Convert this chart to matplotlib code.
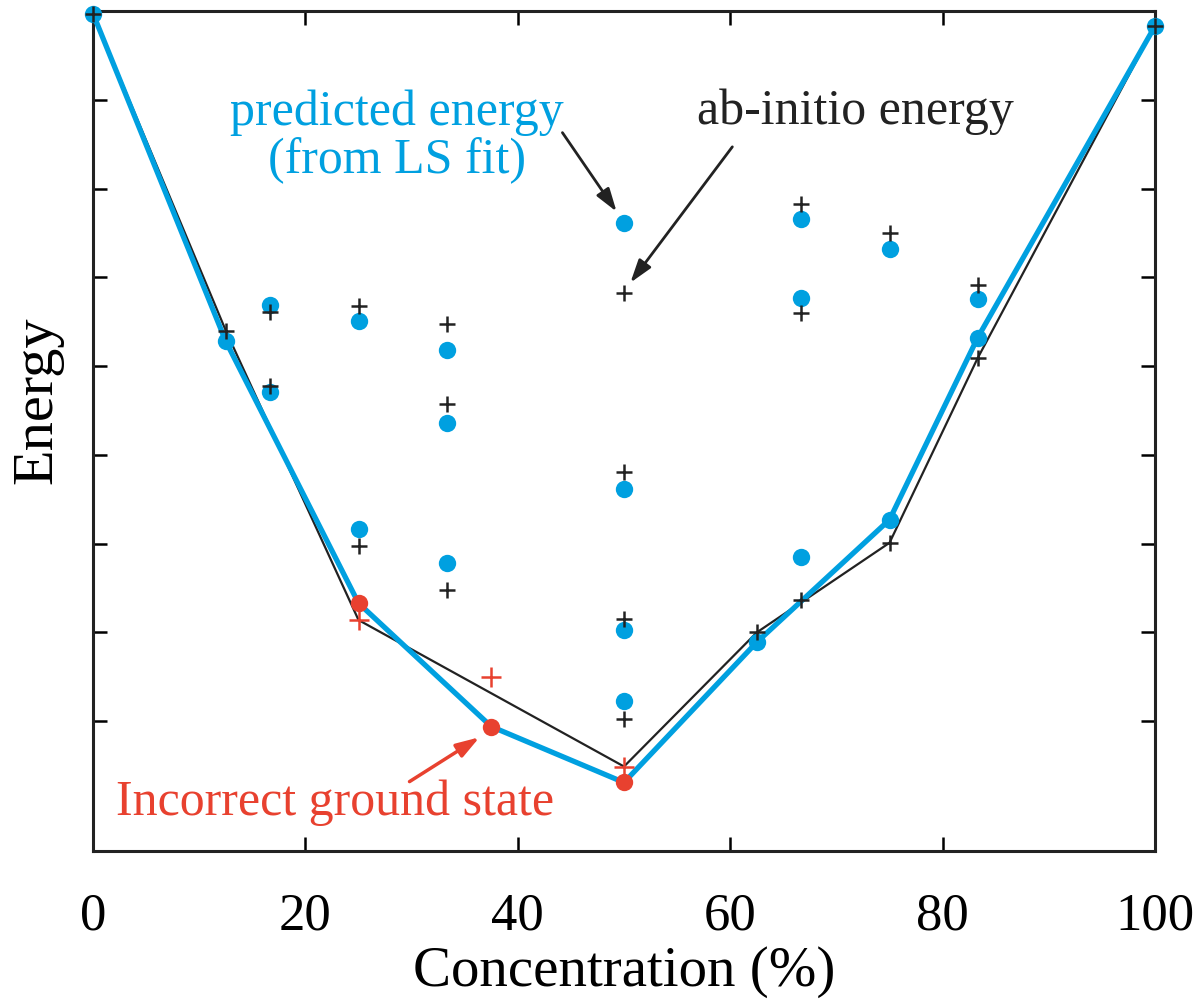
import matplotlib
matplotlib.use("Agg")
import matplotlib.pyplot as plt
import numpy as np

plt.rcParams['font.family'] = ['Liberation Serif', 'DejaVu Serif']

BLUE = '#00a0e0'
RED = '#e8412f'

# ab-initio energies (plus markers)
conc_ab = [0, 12.5, 16.7, 16.7, 25, 25, 33.3, 33.3, 33.3, 50, 50, 50, 50,
           62.5, 66.7, 66.7, 66.7, 75, 75, 83.3, 83.3, 100]
energy_ab = [-0.03, -3.60, -3.39, -4.22, -3.32, -6.03, -3.52, -4.43, -6.52,
             -3.18, -5.19, -6.85, -7.97, -7.00, -2.17, -3.40, -6.64, -2.50,
             -5.99, -3.09, -3.91, -0.17]

# predicted energies from LS fit (circles)
conc_fit = [0, 12.5, 16.7, 16.7, 25, 25, 33.3, 33.3, 33.3, 50, 50, 50, 50,
            62.5, 66.7, 66.7, 66.7, 75, 75, 83.3, 83.3, 100]
energy_fit = [-0.03, -3.72, -3.31, -4.29, -3.49, -5.83, -3.82, -4.64, -6.22,
              -2.39, -5.38, -6.97, -7.77, -7.11, -2.34, -3.23, -6.15, -2.68,
              -5.73, -3.24, -3.68, -0.17]

# ground-state hulls
hull_ab_x = [0, 12.5, 25, 50, 62.5, 75, 83.3, 100]
hull_ab_y = [-0.03, -3.60, -6.86, -8.51, -7.00, -5.99, -3.91, -0.17]
hull_fit_x = [0, 12.5, 25, 37.5, 50, 62.5, 75, 83.3, 100]
hull_fit_y = [-0.03, -3.72, -6.67, -8.06, -8.69, -7.11, -5.73, -3.68, -0.17]

# wrongly predicted ground states (red)
red_ab_x = [25, 37.5, 50]
red_ab_y = [-6.86, -7.50, -8.51]
red_fit_x = [25, 37.5, 50]
red_fit_y = [-6.67, -8.06, -8.69]

fig = plt.figure(figsize=(11.99, 10.01), dpi=100)
ax = fig.add_axes([0.0776, 0.150, 0.8857, 0.839])

ax.plot(hull_ab_x, hull_ab_y, color='#222222', lw=1.6, zorder=2)
ax.plot(hull_fit_x, hull_fit_y, color=BLUE, lw=3.8, zorder=3)
ax.plot(conc_fit, energy_fit, 'o', color=BLUE, ms=12.5, mec='none', zorder=4,
        clip_on=False)
ax.plot(conc_ab, energy_ab, '+', color='#222222', ms=11, mew=1.8, zorder=5,
        clip_on=False)
ax.plot(red_fit_x, red_fit_y, 'o', color=RED, ms=12.5, mec='none', zorder=6)
ax.plot(red_ab_x, red_ab_y, '+', color=RED, ms=14, mew=1.8, zorder=6)

ax.set_xlim(0, 100)
ax.set_ylim(-9.46, 0)
ax.set_xticks([0, 20, 40, 60, 80, 100])
ax.set_yticks(np.arange(-8, 0))
ax.set_yticklabels([])
ax.tick_params(direction='in', length=10, width=1.8, top=True, right=True,
               labelsize=38, pad=30)
for s in ax.spines.values():
    s.set_linewidth(2.2)
    s.set_color('#222222')

ax.set_xlabel('Concentration (%)', fontsize=41, labelpad=4)
ax.set_ylabel('Energy', fontsize=42)
ax.yaxis.set_label_coords(-0.028, 0.537)

ax.text(28.6, -1.42, 'predicted energy\n(from LS fit)', color=BLUE,
        fontsize=36, ha='center', va='center', linespacing=1.05)
ax.text(71.8, -1.14, 'ab-initio energy', color='#222222', fontsize=36,
        ha='center', va='center')
ax.text(22.8, -8.92, 'Incorrect ground state', color=RED, fontsize=36,
        ha='center', va='center')

head = '-|>,head_length=1.4,head_width=0.45'
ax.annotate('', xy=(49.3, -2.26), xytext=(44.2, -1.37),
            arrowprops=dict(arrowstyle=head, color='#222222', lw=2,
                            shrinkA=0, shrinkB=0))
ax.annotate('', xy=(50.6, -3.06), xytext=(60.2, -1.53),
            arrowprops=dict(arrowstyle=head, color='#222222', lw=2,
                            shrinkA=0, shrinkB=0))
ax.annotate('', xy=(36.4, -8.18), xytext=(29.8, -8.68),
            arrowprops=dict(arrowstyle=head, color=RED, lw=2.5,
                            shrinkA=0, shrinkB=0))

fig.savefig('out.png', dpi=100)
